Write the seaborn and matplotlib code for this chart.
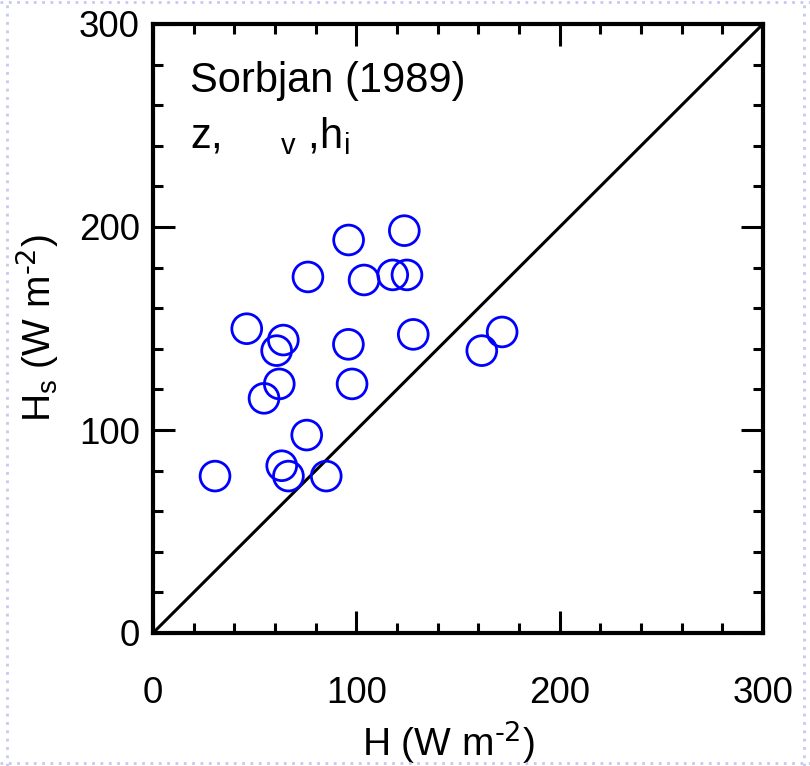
import matplotlib
matplotlib.use('Agg')
import matplotlib.pyplot as plt
from matplotlib.lines import Line2D
import seaborn as sns
import pandas as pd

# measured sensible heat flux H vs. Sorbjan (1989) estimate Hs  (W m-2)
H_obs = [30.5, 46.1, 54.6, 60.8, 62.1, 63.3, 64.1, 66.6, 75.6, 76.2, 85.2,
         96.1, 96.2, 97.9, 103.8, 117.9, 123.6, 124.9, 128.0, 161.7, 171.7]
Hs_est = [77.3, 149.9, 115.6, 139.1, 122.7, 82.4, 144.3, 77.3, 97.5, 175.4, 77.3,
          142.2, 193.6, 122.7, 173.9, 176.4, 198.2, 176.4, 147.1, 139.1, 148.3]

axis_lim = [0, 300]
major_ticks = [0, 100, 200, 300]
minor_ticks = list(range(0, 301, 20))
title_lines = ["Sorbjan (1989)", "z,     $_v$ ,h$_i$"]

df = pd.DataFrame({'H': H_obs, 'Hs': Hs_est})

sns.set_theme(style='white')
plt.rcParams['font.family'] = ['Liberation Sans', 'DejaVu Sans']
plt.rcParams['mathtext.default'] = 'regular'
plt.rcParams['text.color'] = 'black'
plt.rcParams['axes.labelcolor'] = 'black'
plt.rcParams['xtick.color'] = 'black'
plt.rcParams['ytick.color'] = 'black'

fig = plt.figure(figsize=(8.1, 7.66), dpi=100)
ax = fig.add_axes([153 / 810, 133 / 766, 610 / 810, 609 / 766])

# 1:1 line
ax.plot(axis_lim, axis_lim, color='black', lw=2.2, solid_capstyle='butt', zorder=2)

sns.scatterplot(data=df, x='H', y='Hs', ax=ax, marker='o', s=460,
                facecolor='none', edgecolor='#0000FF', linewidth=2.0, zorder=3)

ax.set_xlim(axis_lim)
ax.set_ylim(axis_lim)
ax.set_xticks(major_ticks)
ax.set_yticks(major_ticks)
ax.set_xticks(minor_ticks, minor=True)
ax.set_yticks(minor_ticks, minor=True)

for sp in ax.spines.values():
    sp.set_visible(True)
    sp.set_linewidth(3)
    sp.set_color('black')

ax.tick_params(which='both', direction='in', top=True, right=True,
               bottom=True, left=True, width=2.2, color='black',
               labelcolor='black')
ax.tick_params(which='major', length=16, labelsize=26.5)
ax.tick_params(which='minor', length=7.2)
ax.tick_params(axis='x', which='major', pad=31)
ax.tick_params(axis='y', which='major', pad=9.5)

ax.set_xlabel('H (W m$^{\\text{-2}}$)', fontsize=28, color='black')
ax.set_ylabel('H$_s$ (W m$^{\\text{-2}}$)', fontsize=28, color='black')
ax.xaxis.set_label_coords(0.485, -0.14)
ax.yaxis.set_label_coords(-0.15, 0.5)

ax.text(0.061, 0.888, title_lines[0], transform=ax.transAxes, fontsize=30,
        va='baseline', ha='left', color='black')
ax.text(0.061, 0.796, title_lines[1], transform=ax.transAxes, fontsize=30,
        va='baseline', ha='left', color='black')

# light dotted slide border
dot = dict(color='#C8C8F0', lw=2, ls=(0, (1, 2)), transform=None)
W, Hh = 810, 766
fig.add_artist(Line2D([7, 7], [0, Hh], **dot))
fig.add_artist(Line2D([804, 804], [0, Hh], **dot))
fig.add_artist(Line2D([0, W], [Hh - 2, Hh - 2], **dot))
fig.add_artist(Line2D([0, W], [3, 3], **dot))

fig.savefig('out.png', dpi=100)
